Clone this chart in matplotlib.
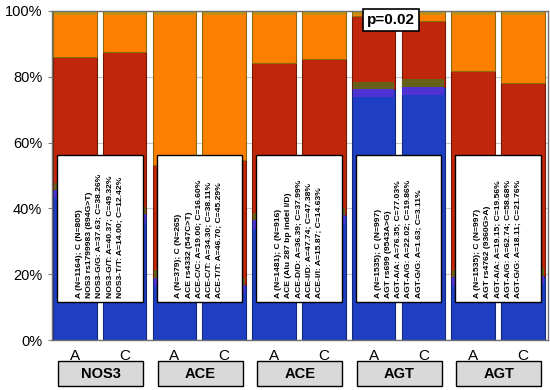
import matplotlib
matplotlib.use("Agg")
import matplotlib.pyplot as plt
from matplotlib.patches import Rectangle
import numpy as np

plt.rcParams['font.family'] = ['Liberation Sans', 'DejaVu Sans']

# one group per polymorphism, two cohorts (A, C) in each
groups = ['NOS3', 'ACE', 'ACE', 'AGT', 'AGT']
cohorts = ['A', 'C']

# genotype shares in %, [A, C] per group (bottom / middle / top of stack)
homo1 = [[45.63, 38.26], [19.00, 16.60], [36.39, 37.99], [76.35, 77.03], [19.15, 19.56]]
hetero = [[40.37, 49.32], [34.30, 38.11], [47.74, 47.38], [22.02, 19.86], [62.74, 58.68]]
homo2 = [[14.00, 12.42], [46.70, 45.29], [15.87, 14.63], [1.63, 3.11], [18.11, 21.76]]

box_lines = [
    ['A (N=1164); C (N=805)', 'NOS3 rs1799983 (894G>T)', 'NOS3-G/G: A=37.63; C=38.26%',
     'NOS3-G/T: A=40.37; C=49.32%', 'NOS3-T/T: A=14.00; C=12.42%'],
    ['A (N=379); C (N=265)', 'ACE rs4332 (547C>T)', 'ACE-C/C: A=19.00; C=16.60%',
     'ACE-C/T: A=34.30; C=38.11%', 'ACE-T/T: A=46.70; C=45.29%'],
    ['A (N=1481); C (N=916)', 'ACE (Alu 287 bp indel I/D)', 'ACE-D/D: A=36.39; C=37.99%',
     'ACE-I/D: A=47.74; C=47.38%', 'ACE-I/I: A=15.87; C=14.63%'],
    ['A (N=1535); C (N=997)', 'AGT rs699 (9543A>G)', 'AGT-A/A: A=76.35; C=77.03%',
     'AGT-A/G: A=22.02; C=19.86%', 'AGT-G/G: A=1.63; C=3.11%'],
    ['A (N=1535); C (N=997)', 'AGT rs4762 (9360G>A)', 'AGT-A/A: A=19.15; C=19.56%',
     'AGT-A/G: A=62.74; C=58.68%', 'AGT-G/G: A=18.11; C=21.76%'],
]
p_text = 'p=0.02'
p_group = 3

v1 = np.ravel(homo1)
v2 = np.ravel(hetero)
v3 = np.ravel(homo2)
x = np.arange(len(v1))
w = 0.875

fig = plt.figure(figsize=(5.5, 3.9), dpi=100)
ax = fig.add_axes([0.0945, 0.128, 0.9015, 0.844])

ax.bar(x, v1, w, color='#1e3fc4', edgecolor='#14287a', lw=0.8, zorder=2)
ax.bar(x, v2, w, bottom=v1, color='#c0260a', edgecolor='#6e1a06', lw=0.8, zorder=2)
ax.bar(x, v3, w, bottom=v1 + v2, color='#ff8000', edgecolor='#8a6a10', lw=0.8, zorder=2)
# thin shaded bands the original shows at segment joins
ax.bar(x, 2.6, w * 0.96, bottom=v1 - 2.6, color='#4e32d2', lw=0, zorder=2.1)
ax.bar(x, 2.2, w * 0.96, bottom=v1, color='#66601a', lw=0, zorder=2.1)
top_band = np.minimum(1.2, v3)
ax.bar(x, top_band, w * 0.96, bottom=100 - top_band, color='#c09010', lw=0, zorder=2.1)

ax.set_xlim(-0.46, 9.5)
ax.set_ylim(0, 100)
ax.set_yticks(range(0, 101, 20))
ax.set_yticklabels([f'{t}%' for t in range(0, 101, 20)], fontsize=10.5)
ax.set_xticks([])
ax.tick_params(axis='y', length=3, color='#808080', pad=4)
ax.yaxis.grid(True, color='#c8c8c8', lw=0.8)
ax.set_axisbelow(True)
for s in ax.spines.values():
    s.set_color('#707070')
    s.set_linewidth(1)

for g, lines in enumerate(box_lines):
    c = 2 * g + 0.5
    ax.add_patch(Rectangle((2 * g - 0.36, 11.5), 1.72, 44.7, fc='white', ec='black',
                           lw=1, zorder=3))
    for i, line in enumerate(lines):
        ax.text(c + (i - 2) * 0.205, 12.8, line, rotation=90, rotation_mode='anchor',
                ha='left', va='center', fontsize=6.1, fontweight='bold', zorder=4)
    # group label below the axis
    ax.add_patch(Rectangle((2 * g - 0.34, -14.0), 1.71, 7.6, fc='#d9d9d9', ec='black',
                           lw=1, zorder=3, clip_on=False))
    ax.text(c + 0.02, -10.2, groups[g], ha='center', va='center', fontsize=10.5,
            fontweight='bold', zorder=4, clip_on=False)
    for k, lab in enumerate(cohorts):
        ax.text(2 * g + k, -4.8, lab, ha='center', va='center', fontsize=11,
                zorder=4, clip_on=False)

ax.text(2 * p_group + 0.35, 97.2, p_text, ha='center', va='center', fontsize=11,
        fontweight='bold', zorder=5,
        bbox=dict(boxstyle='square,pad=0.25', fc='white', ec='black', lw=1.2))

fig.savefig('out.png', dpi=100)
